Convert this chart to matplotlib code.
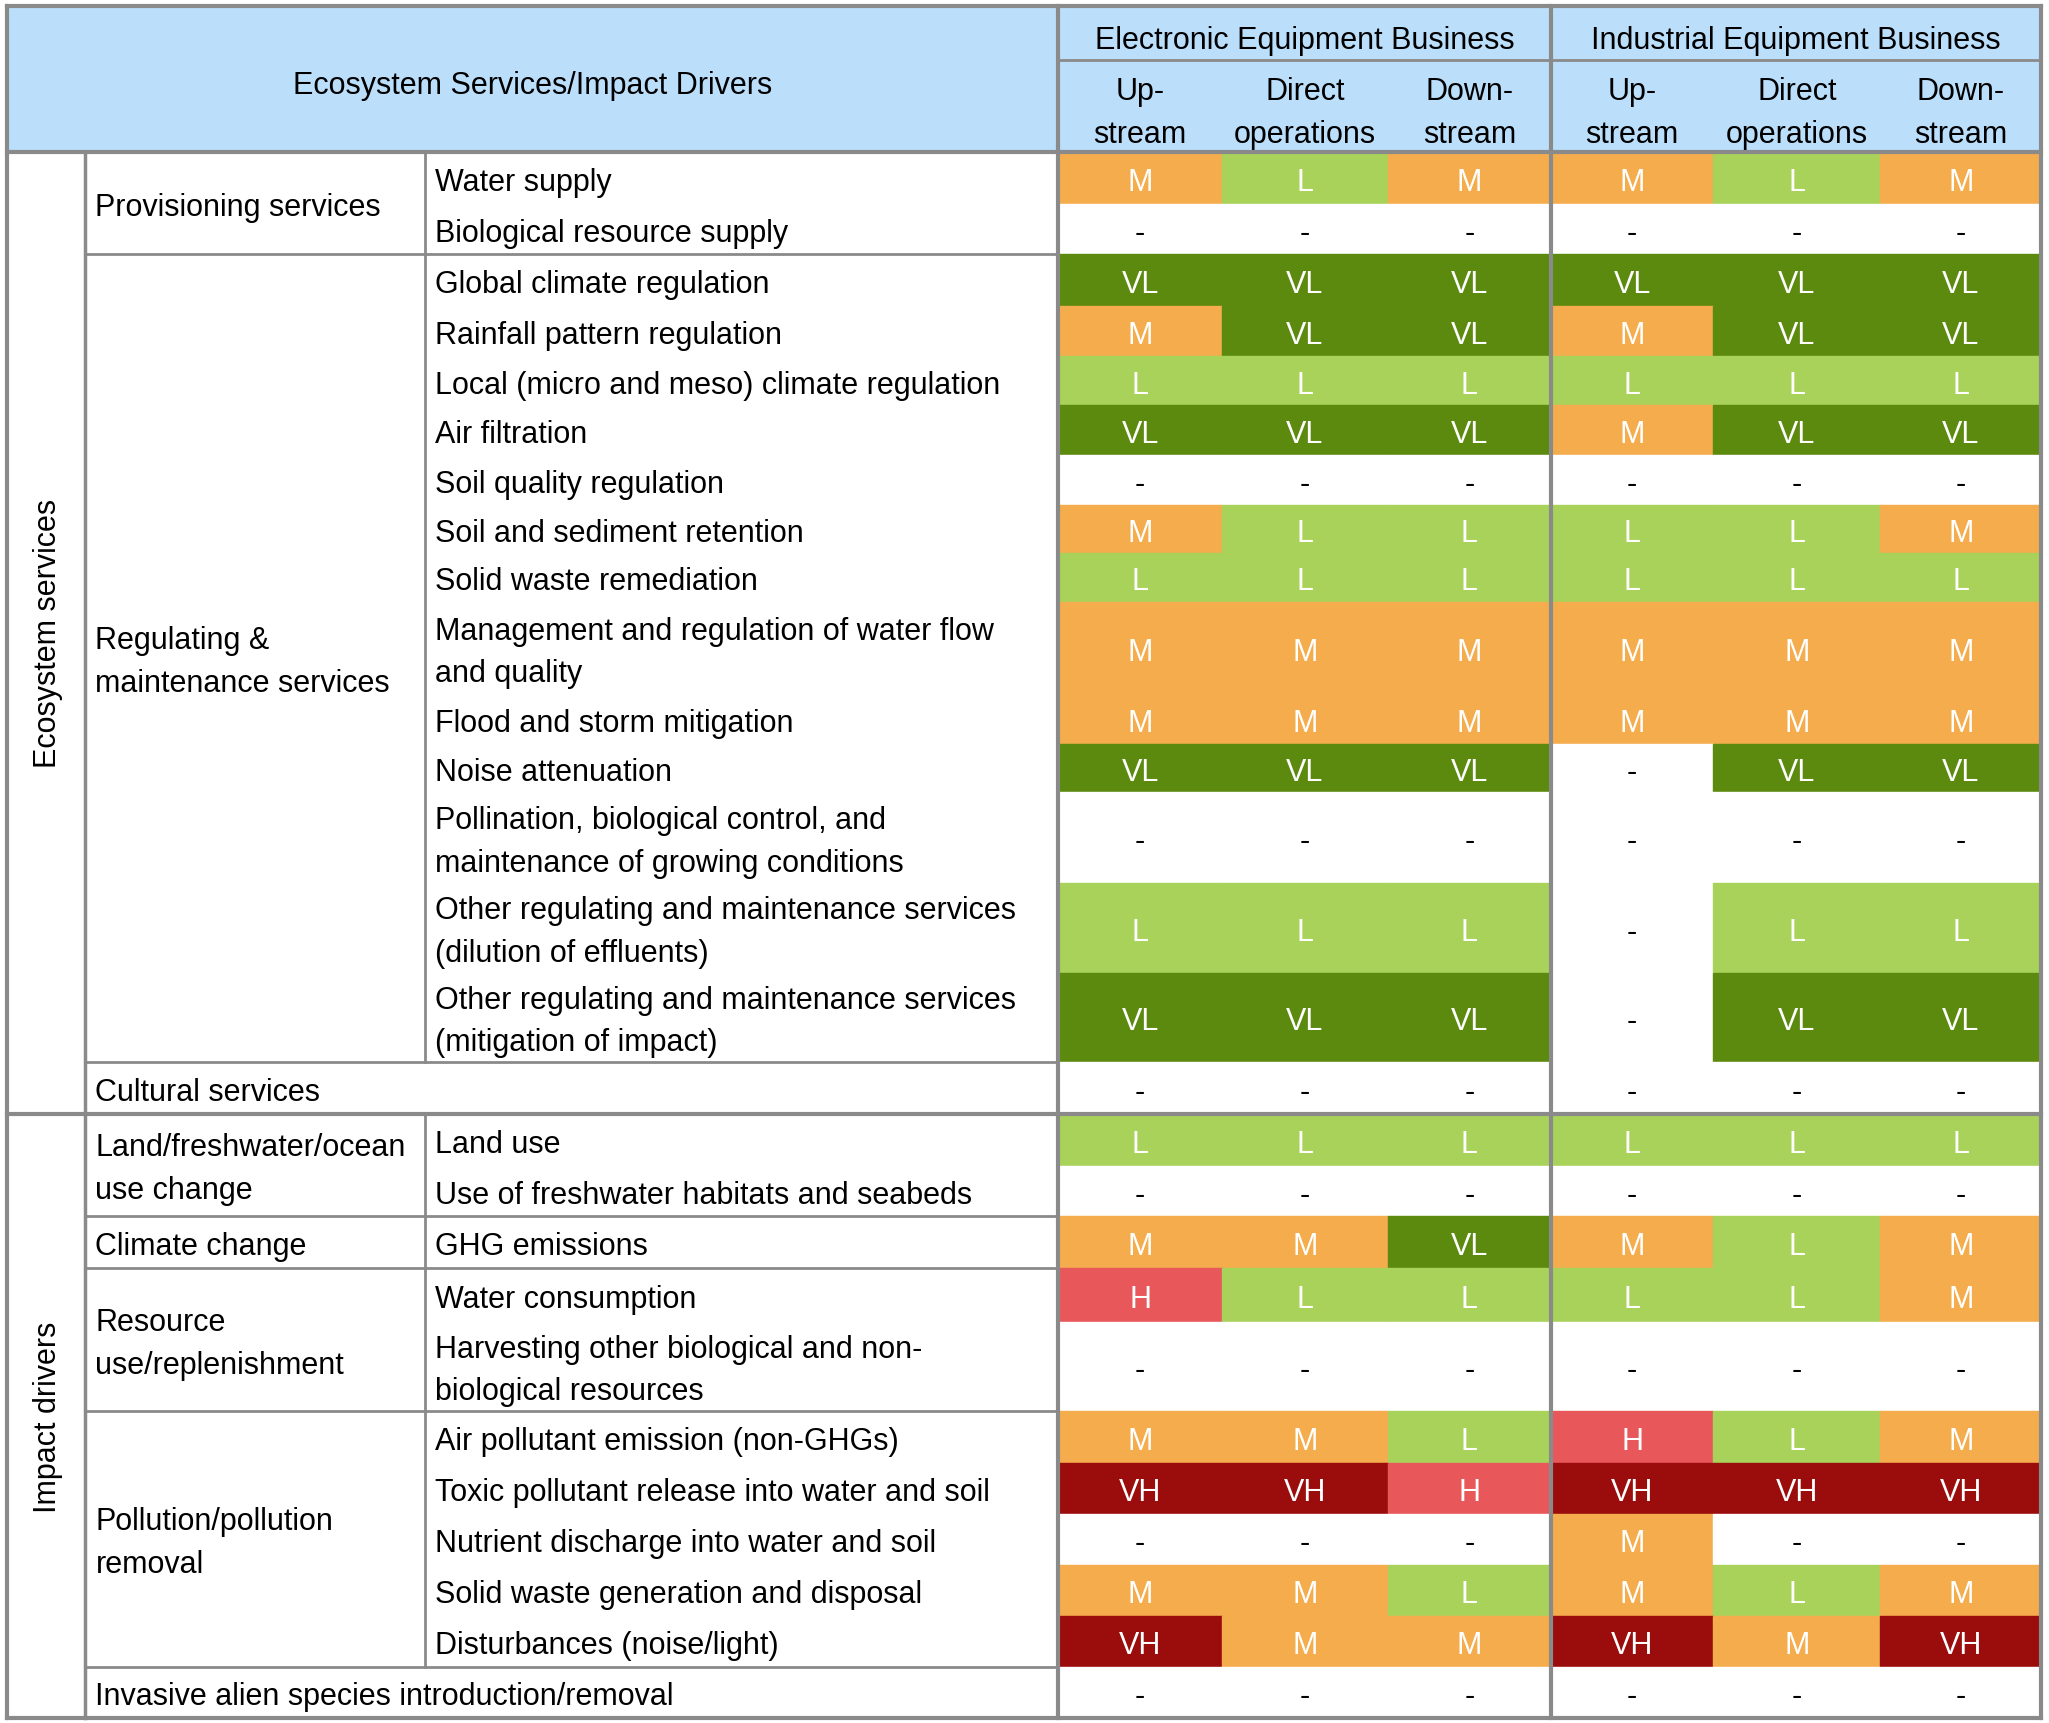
import matplotlib
matplotlib.use("Agg")
import matplotlib.pyplot as plt
from matplotlib.patches import Rectangle

plt.rcParams['font.family'] = ['Liberation Sans', 'DejaVu Sans']

# ---- data ----
sections = [("Ecosystem services", 0, 16), ("Impact drivers", 16, 27)]
groups = [("Provisioning services", 0, 2), ("Regulating &\nmaintenance services", 2, 15),
          ("Cultural services", 15, 16), ("Land/freshwater/ocean\nuse change", 16, 18),
          ("Climate change", 18, 19), ("Resource\nuse/replenishment", 19, 21),
          ("Pollution/pollution\nremoval", 21, 26),
          ("Invasive alien species introduction/removal", 26, 27)]
items = ["Water supply", "Biological resource supply", "Global climate regulation",
         "Rainfall pattern regulation", "Local (micro and meso) climate regulation",
         "Air filtration", "Soil quality regulation", "Soil and sediment retention",
         "Solid waste remediation", "Management and regulation of water flow\nand quality",
         "Flood and storm mitigation", "Noise attenuation",
         "Pollination, biological control, and\nmaintenance of growing conditions",
         "Other regulating and maintenance services\n(dilution of effluents)",
         "Other regulating and maintenance services\n(mitigation of impact)",
         None, "Land use", "Use of freshwater habitats and seabeds", "GHG emissions",
         "Water consumption", "Harvesting other biological and non-\nbiological resources",
         "Air pollutant emission (non-GHGs)", "Toxic pollutant release into water and soil",
         "Nutrient discharge into water and soil", "Solid waste generation and disposal",
         "Disturbances (noise/light)", None]
ratings = [
    "M L M M L M", "- - - - - -", "VL VL VL VL VL VL", "M VL VL M VL VL",
    "L L L L L L", "VL VL VL M VL VL", "- - - - - -", "M L L L L M",
    "L L L L L L", "M M M M M M", "M M M M M M", "VL VL VL - VL VL",
    "- - - - - -", "L L L - L L", "VL VL VL - VL VL", "- - - - - -",
    "L L L L L L", "- - - - - -", "M M VL M L M", "H L L L L M",
    "- - - - - -", "M M L H L M", "VH VH H VH VH VH", "- - - M - -",
    "M M L M L M", "VH M M VH M VH", "- - - - - -"]
businesses = ["Electronic Equipment Business", "Industrial Equipment Business"]
stages = ["Up-\nstream", "Direct\noperations", "Down-\nstream"]

# ---- layout (in reference pixel units) ----
row_edges = [117, 157, 195, 235, 273, 311, 349, 387, 424, 461, 532, 570, 607, 676,
             745, 813, 853, 893, 931, 971, 1012, 1080, 1120, 1159, 1198, 1237, 1276, 1315]
col_x = [5, 65, 325, 810, 935, 1062, 1187, 1311, 1439, 1562]
colors = {"M": "#F4AC4C", "L": "#A9D25A", "VL": "#5B8A0E", "H": "#E8585A",
          "VH": "#9A0D0C", "-": "white"}
textc = {"M": "white", "L": "white", "VL": "white", "H": "white", "VH": "white", "-": "black"}
line_c = "#8A8A8A"
fs = 22
dy = 3
ls = 1.55

fig = plt.figure(figsize=(20.49, 17.24), dpi=100)
ax = fig.add_axes([0, 0, 1, 1])
ax.set_xlim(0, 1568)
ax.set_ylim(1319, 0)
ax.axis("off")

# header
ax.add_patch(Rectangle((col_x[0], 5), col_x[-1] - col_x[0], 112, color="#BBDEFB", zorder=0))
ax.text((col_x[0] + col_x[3]) / 2, 63 + dy, "Ecosystem Services/Impact Drivers", ha="center", va="center", fontsize=fs)
for b, name in enumerate(businesses):
    x0, x1 = col_x[3 + 3 * b], col_x[6 + 3 * b]
    ax.text((x0 + x1) / 2, 28 + dy, name, ha="center", va="center", fontsize=fs)
    for s, st in enumerate(stages):
        c0, c1 = col_x[3 + 3 * b + s], col_x[4 + 3 * b + s]
        ax.text((c0 + c1) / 2, 84 + dy, st, ha="center", va="center", fontsize=fs, linespacing=ls)
ax.plot([col_x[3], col_x[-1]], [47, 47], color=line_c, lw=2)

# cells
for r, row in enumerate(ratings):
    y0, y1 = row_edges[r], row_edges[r + 1]
    for c, v in enumerate(row.split()):
        x0, x1 = col_x[3 + c], col_x[4 + c]
        ax.add_patch(Rectangle((x0, y0), x1 - x0, y1 - y0, color=colors[v], zorder=1))
        ax.text((x0 + x1) / 2, (y0 + y1) / 2 + dy, v, ha="center", va="center",
                fontsize=fs, color=textc[v], zorder=3)
    if items[r]:
        ax.text(col_x[2] + 8, (y0 + y1) / 2 + dy, items[r], ha="left", va="center", fontsize=fs, linespacing=ls)

# groups
for label, a, b in groups:
    y0, y1 = row_edges[a], row_edges[b]
    ax.text(col_x[1] + 8, (y0 + y1) / 2 + dy, label, ha="left", va="center", fontsize=fs, linespacing=ls)
    ax.plot([col_x[1], col_x[3]], [y1, y1], color=line_c, lw=2, zorder=4)
    if items[a] is not None:
        ax.plot([col_x[2], col_x[2]], [y0, y1], color=line_c, lw=2, zorder=4)

# sections
for label, a, b in sections:
    y0, y1 = row_edges[a], row_edges[b]
    ax.text((col_x[0] + col_x[1]) / 2 + 2, (y0 + y1) / 2, label, ha="center", va="center",
            rotation=90, fontsize=fs)
    ax.plot([col_x[0], col_x[-1]], [y1, y1], color=line_c, lw=3, zorder=4)

# main borders
ax.plot([col_x[0], col_x[-1]], [117, 117], color=line_c, lw=3, zorder=4)
ax.plot([col_x[1], col_x[1]], [117, 1315], color=line_c, lw=2.5, zorder=4)
for x in [col_x[0], col_x[3], col_x[6], col_x[-1]]:
    ax.plot([x, x], [5, 1315], color=line_c, lw=3, zorder=4)
ax.plot([col_x[0], col_x[-1]], [5, 5], color=line_c, lw=3, zorder=4)

fig.savefig("out.png", dpi=100)
